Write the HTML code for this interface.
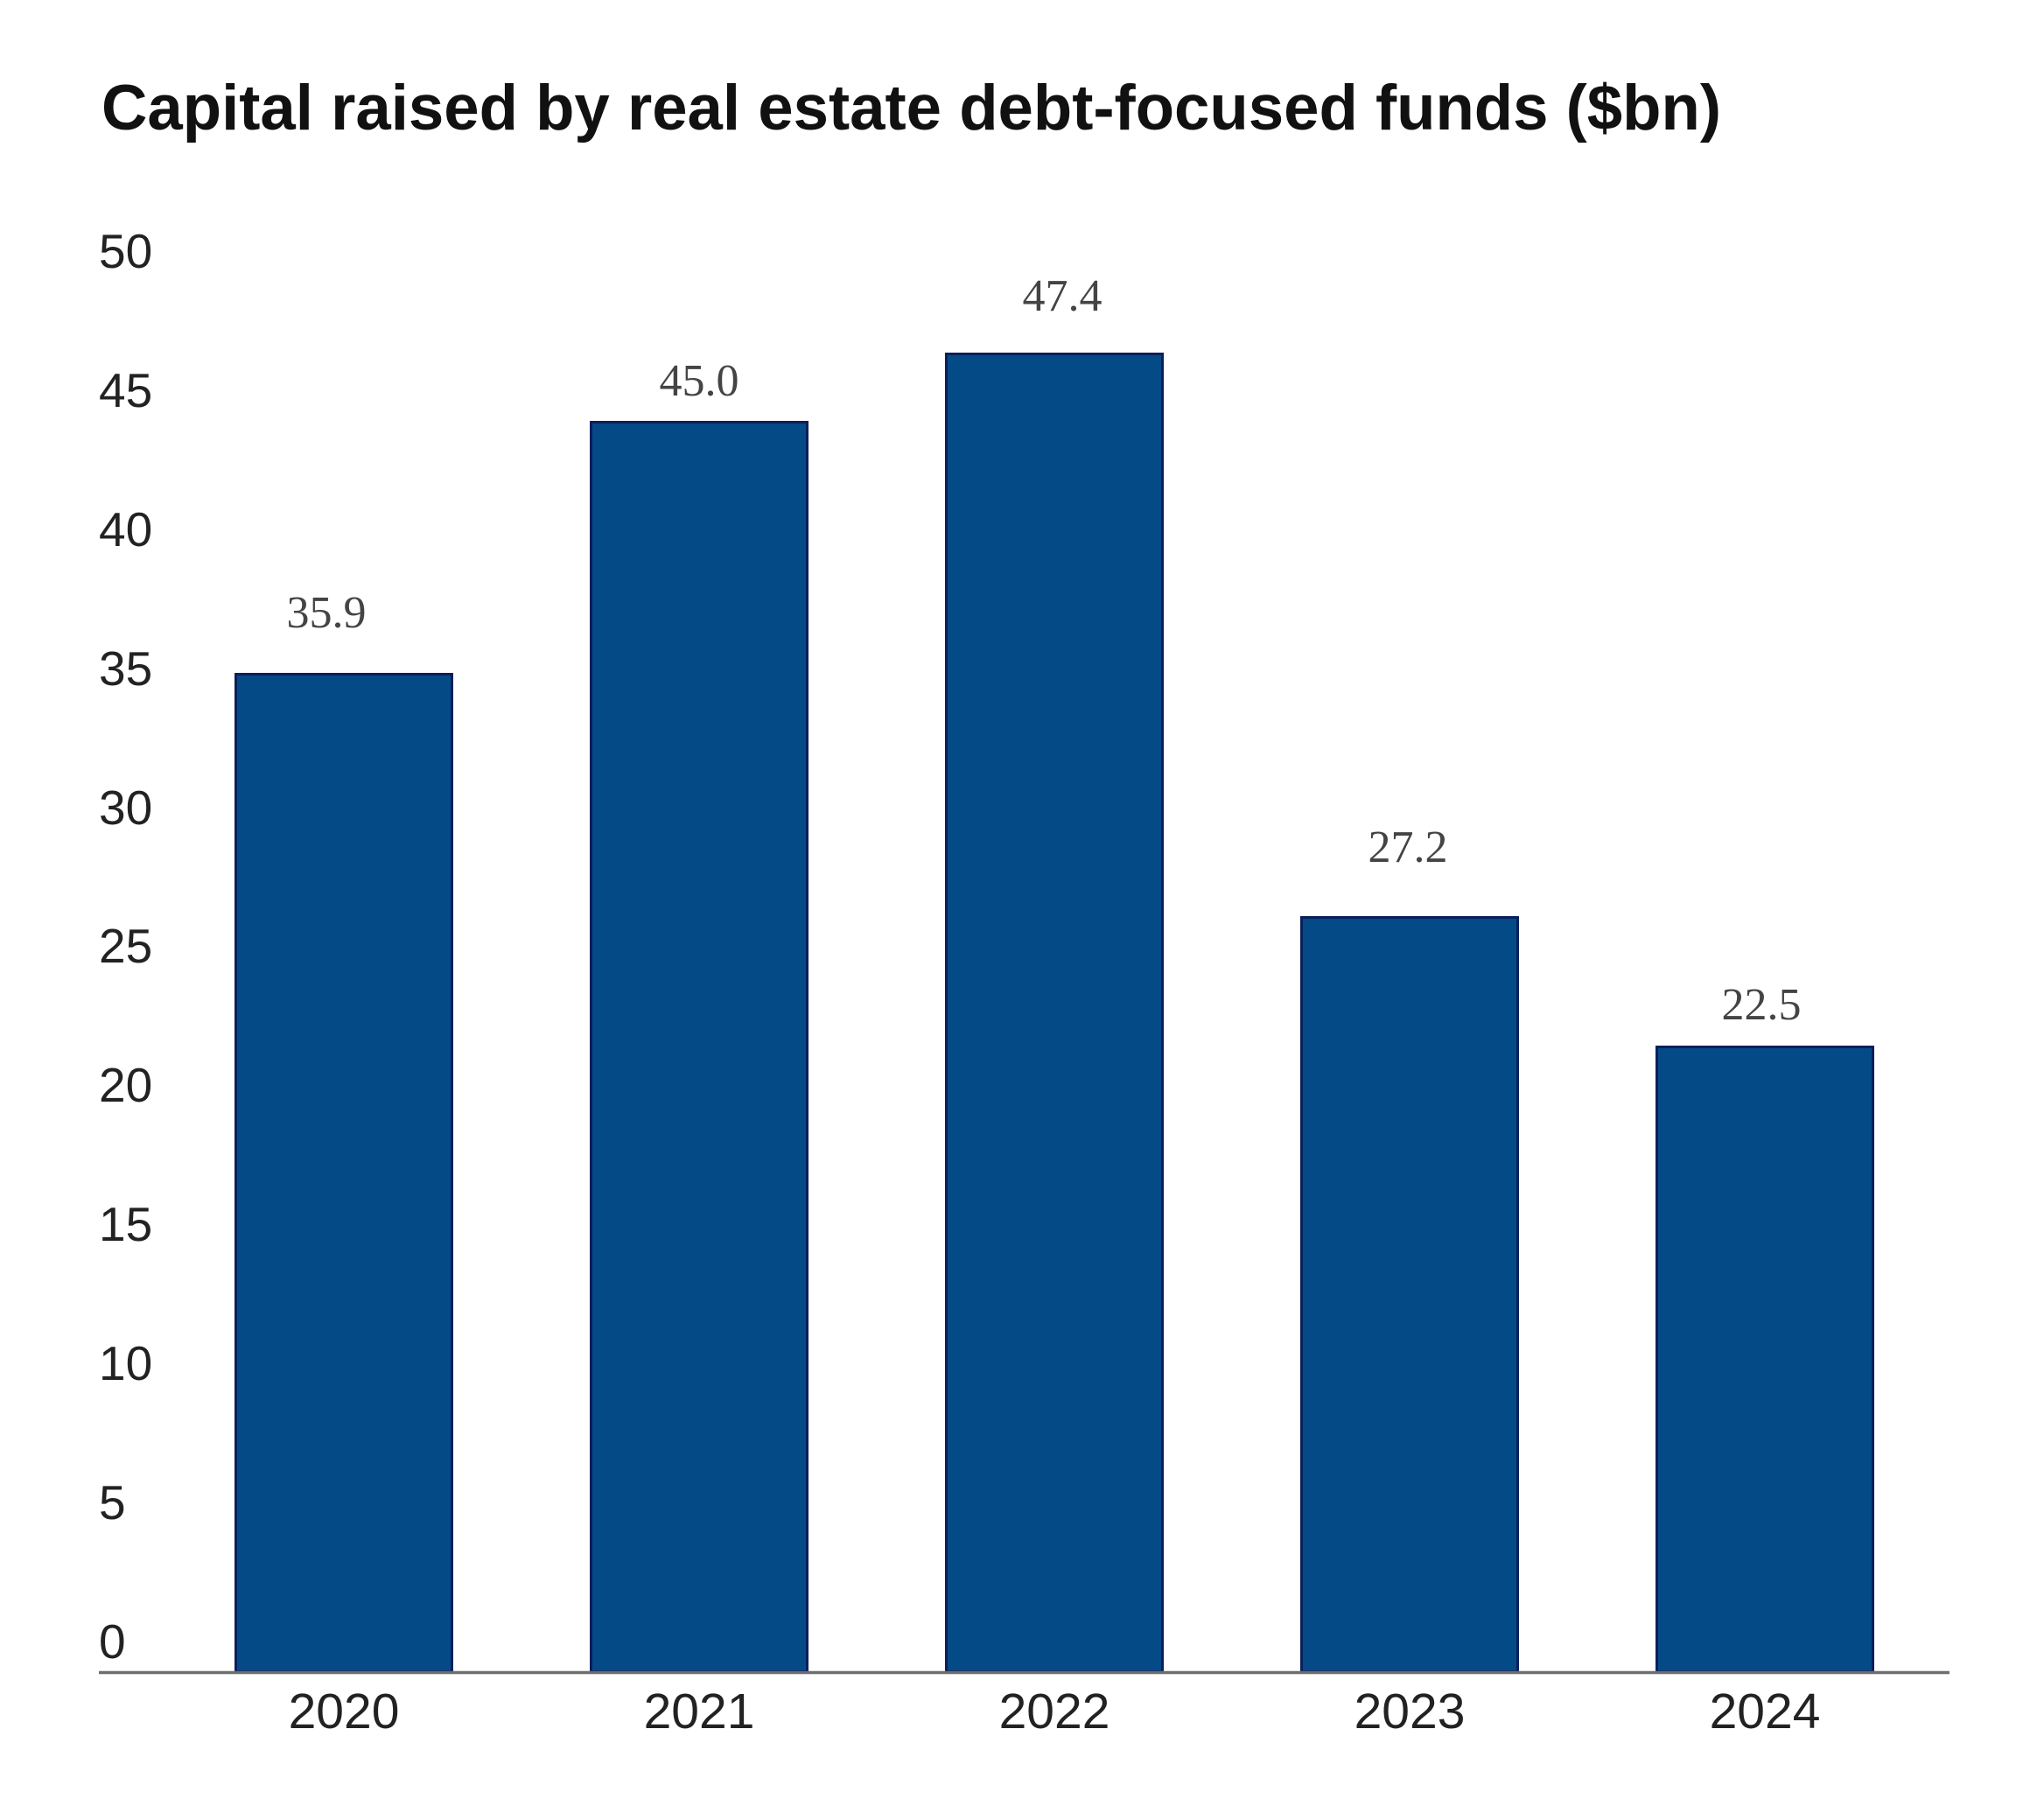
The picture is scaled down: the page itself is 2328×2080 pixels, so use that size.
<!DOCTYPE html>
<html>
<head>
<meta charset="utf-8">
<style>
  html, body { margin: 0; padding: 0; background: #ffffff; }
  svg { display: block; }
</style>
</head>
<body>
<svg width="2328" height="2080" viewBox="0 0 2328 2080" xmlns="http://www.w3.org/2000/svg">
  <rect x="0" y="0" width="2328" height="2080" fill="#ffffff"/>

  <!-- Title -->
  <text x="116" y="148" font-family="'Liberation Sans', sans-serif" font-weight="bold" font-size="73" fill="#111111" textLength="1851" lengthAdjust="spacingAndGlyphs">Capital raised by real estate debt-focused funds ($bn)</text>

  <!-- Y axis labels -->
  <g font-family="'Liberation Sans', sans-serif" font-size="55" fill="#222222">
    <text x="113" y="306">50</text>
    <text x="113" y="465">45</text>
    <text x="113" y="624">40</text>
    <text x="113" y="783">35</text>
    <text x="113" y="942">30</text>
    <text x="113" y="1100">25</text>
    <text x="113" y="1259">20</text>
    <text x="113" y="1418">15</text>
    <text x="113" y="1577">10</text>
    <text x="113" y="1736">5</text>
    <text x="113" y="1895">0</text>
  </g>

  <!-- Bars -->
  <g fill="#034a87" stroke="#0b1f5c" stroke-width="3">
    <rect x="269.5" y="770.5" width="247" height="1140"/>
    <rect x="675.5" y="482.5" width="247" height="1428"/>
    <rect x="1081.5" y="404.5" width="247" height="1506"/>
    <rect x="1487.5" y="1048.5" width="247" height="862"/>
    <rect x="1893.5" y="1196.5" width="247" height="714"/>
  </g>

  <!-- X axis line -->
  <line x1="113" y1="1911.5" x2="2228" y2="1911.5" stroke="#6e6e6e" stroke-width="3.5"/>

  <!-- Value labels -->
  <g font-family="'Liberation Serif', serif" font-size="52" fill="#444444" text-anchor="middle">
    <text x="373" y="717">35.9</text>
    <text x="799" y="452">45.0</text>
    <text x="1214" y="355">47.4</text>
    <text x="1609" y="985">27.2</text>
    <text x="2013" y="1165">22.5</text>
  </g>

  <!-- X axis labels -->
  <g font-family="'Liberation Sans', sans-serif" font-size="57" fill="#222222" text-anchor="middle">
    <text x="393" y="1975">2020</text>
    <text x="799" y="1975">2021</text>
    <text x="1205" y="1975">2022</text>
    <text x="1611" y="1975">2023</text>
    <text x="2017" y="1975">2024</text>
  </g>
</svg>
</body>
</html>
